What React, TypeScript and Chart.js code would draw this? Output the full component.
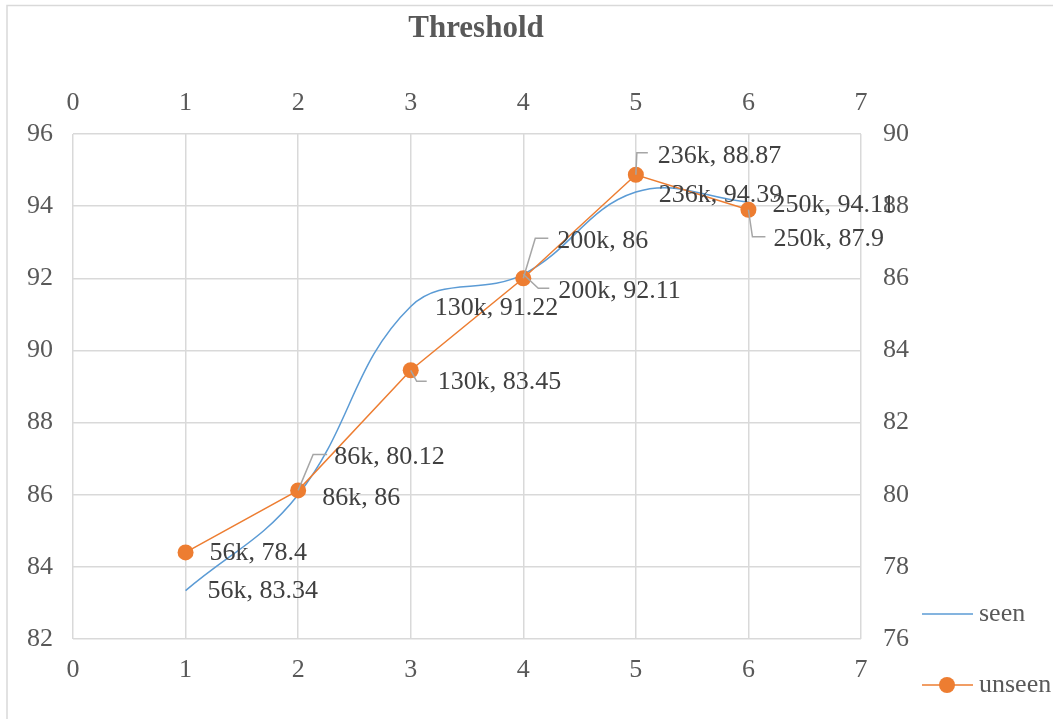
import React, { useEffect, useRef } from "react";
import { Chart, registerables } from "chart.js";

Chart.register(...registerables);

const xValues = [1, 2, 3, 4, 5, 6];
const sizeLabels = ["56k", "86k", "130k", "200k", "236k", "250k"];
const seenValues = [83.34, 86, 91.22, 92.11, 94.39, 94.11];
const unseenValues = [78.4, 80.12, 83.45, 86, 88.87, 87.9];
const seenLabelText = ["56k, 83.34", "86k, 86", "130k, 91.22", "200k, 92.11", "236k, 94.39", "250k, 94.11"];
const unseenLabelText = ["56k, 78.4", "86k, 80.12", "130k, 83.45", "200k, 86", "236k, 88.87", "250k, 87.9"];
const chartTitle = "Threshold";
const seriesNames = ["seen", "unseen"];

// label placement (pixel offsets from the point: text left/center, and leader polyline)
const seenLabelPos = [
  { dx: 22, dy: 1, leader: null },
  { dx: 24, dy: 3, leader: null },
  { dx: 24, dy: 2, leader: null },
  { dx: 35, dy: 17, leader: [[0, 0], [15, 14], [26, 14]] },
  { dx: 23, dy: 3, leader: null },
  { dx: 24, dy: 3, leader: null },
];
const unseenLabelPos = [
  { dx: 24, dy: 1, leader: null },
  { dx: 36, dy: -33, leader: [[0, 0], [15, -36], [29, -36]] },
  { dx: 27, dy: 12, leader: [[0, 0], [6, 11], [16, 11]] },
  { dx: 34, dy: -37, leader: [[0, 0], [12, -40], [25, -40]] },
  { dx: 22, dy: -19, leader: [[0, 0], [1, -22], [12, -22]] },
  { dx: 25, dy: 29, leader: [[0, 0], [4, 27], [17, 27]] },
];

const FONT = "'Liberation Serif', 'Times New Roman', serif";
const BLUE = "#5b9bd5";
const ORANGE = "#ed7d31";
const GRID = "#d9d9d9";
const TEXT = "#595959";
const LABEL = "#404040";

const decorPlugin = {
  id: "decor",
  beforeDraw(chart: any) {
    const ctx = chart.ctx;
    ctx.save();
    ctx.fillStyle = "#ffffff";
    ctx.fillRect(0, 0, chart.width, chart.height);
    ctx.strokeStyle = GRID;
    ctx.lineWidth = 1.5;
    ctx.strokeRect(7, 5.5, 1200, 900);
    ctx.restore();
  },
  afterDatasetsDraw(chart: any) {
    const ctx = chart.ctx;
    const xs = chart.scales.x;
    const yl = chart.scales.y;
    const yr = chart.scales.y2;
    ctx.save();
    // title
    ctx.fillStyle = TEXT;
    ctx.font = `bold 31px ${FONT}`;
    ctx.textAlign = "center";
    ctx.textBaseline = "middle";
    ctx.fillText(chartTitle, 476, 29);

    const drawLabels = (vals: number[], texts: string[], pos: any[], ys: any) => {
      vals.forEach((v, i) => {
        const px = xs.getPixelForValue(xValues[i]);
        const py = ys.getPixelForValue(v);
        const p = pos[i];
        if (p.leader) {
          ctx.strokeStyle = "#a6a6a6";
          ctx.lineWidth = 1.5;
          ctx.beginPath();
          p.leader.forEach((pt: number[], k: number) => {
            if (k === 0) ctx.moveTo(px + pt[0], py + pt[1]);
            else ctx.lineTo(px + pt[0], py + pt[1]);
          });
          ctx.stroke();
        }
        ctx.fillStyle = LABEL;
        ctx.font = `26px ${FONT}`;
        ctx.textAlign = "left";
        ctx.textBaseline = "middle";
        ctx.fillText(texts[i], px + p.dx, py + p.dy);
      });
    };
    drawLabels(unseenValues, unseenLabelText, unseenLabelPos, yr);
    drawLabels(seenValues, seenLabelText, seenLabelPos, yl);

    // legend
    ctx.lineWidth = 1.5;
    ctx.strokeStyle = BLUE;
    ctx.beginPath();
    ctx.moveTo(922, 614);
    ctx.lineTo(973, 614);
    ctx.stroke();
    ctx.strokeStyle = ORANGE;
    ctx.beginPath();
    ctx.moveTo(922, 685);
    ctx.lineTo(973, 685);
    ctx.stroke();
    ctx.fillStyle = ORANGE;
    ctx.beginPath();
    ctx.arc(947, 685, 8, 0, Math.PI * 2);
    ctx.fill();
    ctx.fillStyle = TEXT;
    ctx.font = `26px ${FONT}`;
    ctx.textAlign = "left";
    ctx.textBaseline = "middle";
    ctx.fillText(seriesNames[0], 979, 614);
    ctx.fillText(seriesNames[1], 979, 685);
    ctx.restore();
  },
};

export default function App() {
  const ref = useRef<HTMLCanvasElement>(null);
  useEffect(() => {
    document.body.style.margin = "0";
    const canvas = ref.current!;
    const chart = new Chart(canvas, {
      type: "line",
      data: {
        datasets: [
          {
            label: seriesNames[1],
            data: xValues.map((x, i) => ({ x, y: unseenValues[i] })),
            yAxisID: "y2",
            xAxisID: "x",
            borderColor: ORANGE,
            backgroundColor: ORANGE,
            borderWidth: 1.5,
            pointRadius: 8,
            pointBorderWidth: 0,
            pointBackgroundColor: ORANGE,
            tension: 0,
            order: 0,
          },
          {
            label: seriesNames[0],
            data: xValues.map((x, i) => ({ x, y: seenValues[i] })),
            yAxisID: "y",
            xAxisID: "x",
            borderColor: BLUE,
            backgroundColor: BLUE,
            borderWidth: 1.5,
            pointRadius: 0,
            tension: 0.4,
            order: 1,
          },
        ],
      },
      options: {
        responsive: false,
        animation: false,
        layout: { padding: 0 },
        plugins: {
          legend: { display: false },
          title: { display: false },
          tooltip: { enabled: false },
        },
        scales: {
          x: {
            type: "linear",
            position: "bottom",
            min: 0,
            max: 7,
            ticks: { stepSize: 1, color: TEXT, font: { size: 26, family: FONT }, padding: 16 },
            grid: { color: GRID, lineWidth: 1.5, drawTicks: false },
            border: { display: false },
            afterFit: (s: any) => { s.height = 80; },
          },
          x2: {
            type: "linear",
            position: "top",
            min: 0,
            max: 7,
            ticks: { stepSize: 1, color: TEXT, font: { size: 26, family: FONT }, padding: 15 },
            grid: { display: false, drawTicks: false },
            border: { display: false },
            afterFit: (s: any) => { s.height = 134; },
          },
          y: {
            type: "linear",
            position: "left",
            min: 82,
            max: 96,
            ticks: { stepSize: 2, color: TEXT, font: { size: 26, family: FONT }, padding: 20 },
            grid: { color: GRID, lineWidth: 1.5, drawTicks: false },
            border: { display: false },
            afterFit: (s: any) => { s.width = 73; },
          },
          y2: {
            type: "linear",
            position: "right",
            min: 76,
            max: 90,
            ticks: { stepSize: 2, color: TEXT, font: { size: 26, family: FONT }, padding: 22 },
            grid: { display: false, drawTicks: false },
            border: { display: false },
            afterFit: (s: any) => { s.width = 192; },
          },
        },
      },
      plugins: [decorPlugin],
    });
    return () => chart.destroy();
  }, []);
  return (
    <div style={{ width: 1053, height: 719 }}>
      <canvas ref={ref} width={1053} height={719} style={{ display: "block" }} />
    </div>
  );
}
